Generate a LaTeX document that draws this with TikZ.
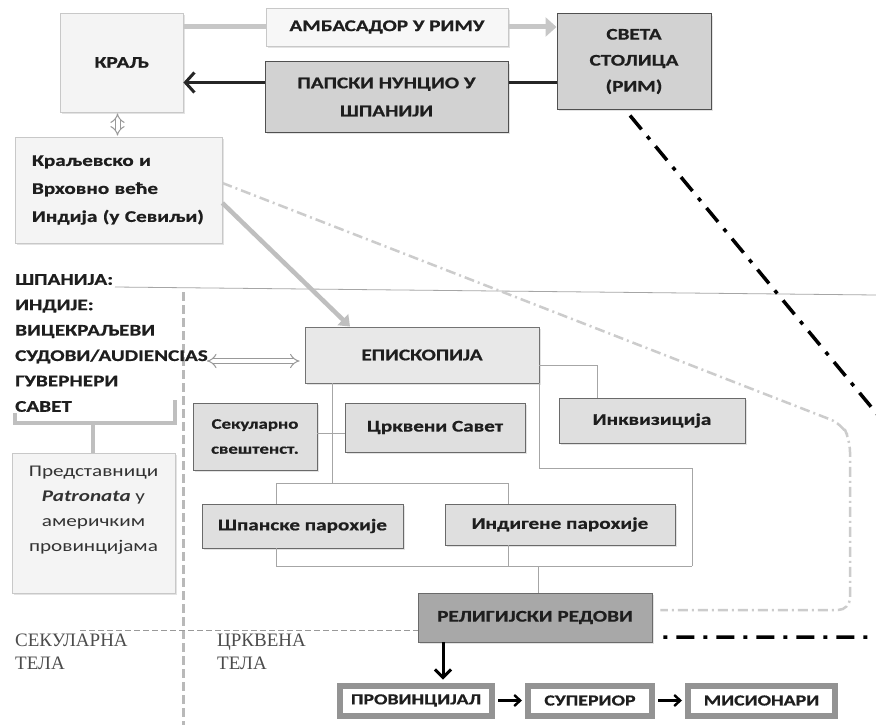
\documentclass[tikz,border=0pt]{standalone}
\usepackage{fontspec}
\setmainfont{Carlito}[FakeStretch=1.3, BoldFeatures={FakeBold=0.7}]
\newfontfamily\serifl{Liberation Serif}
\usetikzlibrary{arrows.meta,shadows}
\definecolor{lbfill}{HTML}{F4F4F4}
\definecolor{lbdraw}{HTML}{C8C8C8}
\definecolor{dbfill}{HTML}{D2D2D2}
\definecolor{dbdraw}{HTML}{505050}
\definecolor{mbfill}{HTML}{DFDFDF}
\definecolor{mbdraw}{HTML}{6A6A6A}
\definecolor{rbfill}{HTML}{A8A8A8}
\definecolor{txt}{HTML}{1E1E1E}
\tikzset{
  every node/.style={inner sep=0pt, text=txt},
  shad/.style={drop shadow={opacity=0.22, shadow xshift=1.5pt, shadow yshift=-2pt}},
  bigfont/.style={font=\bfseries\fontsize{16.3}{26}\selectfont},
  lbox/.style={draw=lbdraw, fill=lbfill, line width=0.8pt, align=center, shad, bigfont},
  wbox/.style={draw=lbdraw, fill=white!97!black, line width=0.8pt, align=center, shad, bigfont},
  dbox/.style={draw=dbdraw, fill=dbfill, line width=1pt, align=center, shad, bigfont},
  mbox/.style={draw=mbdraw, fill=mbfill, line width=0.9pt, align=center, shad, bigfont},
  rbox/.style={draw=mbdraw, fill=rbfill, line width=0.9pt, align=center, shad, bigfont},
  fbox/.style={draw=gray!85, fill=white, line width=6pt, align=center, font=\bfseries\fontsize{15.3}{20}\selectfont},
  conn/.style={draw=gray!70, line width=0.8pt},
  hollow/.style={draw=gray!80, line width=1pt, double=white, double distance=4pt, {Implies[length=5pt]}-{Implies[length=5pt]}},
  serlab/.style={font=\serifl\fontsize{19}{23}\selectfont, text=black!70, align=left, anchor=north west}
}
\begin{document}
\begin{tikzpicture}[x=1pt,y=-1pt]
\useasboundingbox (0,0) rectangle (876,725);
\fill[white] (0,0) rectangle (876,725);

% separators
\draw[gray!70, line width=0.8pt] (115,287) -- (876,295);
\draw[gray!55, line width=3pt, dash pattern=on 9pt off 4pt] (183,292) -- (183,725);
\draw[gray!80, line width=0.9pt, dash pattern=on 6pt off 3pt] (80,630) -- (420,630);

% top boxes
\node[lbox, minimum width=123pt, minimum height=99pt] (kral) at (121.5,62.5) {КРАЉ};
\node[wbox, minimum width=242pt, minimum height=38pt] (amb) at (387,27) {АМБАСАДОР У РИМУ};
\node[dbox, minimum width=243pt, minimum height=70pt, font=\bfseries\fontsize{16.3}{28}\selectfont] (nun) at (386.5,97) {ПАПСКИ НУНЦИО У\\ШПАНИЈИ};
\node[dbox, minimum width=154pt, minimum height=95pt] (sveta) at (634,61.5) {СВЕТА\\СТОЛИЦА\\(РИМ)};
\node[lbox, text width=173pt, inner xsep=17pt, align=left, minimum height=106pt, font=\bfseries\fontsize{16.3}{28}\selectfont] (kv) at (118.5,190) {Краљевско и\\Врховно веће\\Индија (у Севиљи)};

% left column
\node[anchor=north west, align=left, font=\bfseries\fontsize{16.3}{25.4}\selectfont] (indije) at (15,274) {ШПАНИЈА:\\ИНДИЈЕ:\\ВИЦЕКРАЉЕВИ\\СУДОВИ/AUDIENCIAS\\ГУВЕРНЕРИ\\САВЕТ};
\node[lbox, minimum width=163pt, minimum height=140pt] (pred) at (93.5,523) {};
\node[font=\fontsize{16.3}{25}\selectfont, align=center, text=black!80] (predT) at (93.5,510) {Представници\\\textbf{\textit{Patronata}} у\\америчким\\провинцијама};

% church boxes
\node[mbox, minimum width=234pt, minimum height=56pt, fill=black!9, draw=black!55] (episk) at (422,355) {ЕПИСКОПИЈА};
\node[mbox, minimum width=124pt, minimum height=67pt, font=\bfseries\fontsize{14.5}{25}\selectfont] (sek) at (255,436.5) {Секуларно\\свештенст.};
\node[mbox, minimum width=180pt, minimum height=49pt] (crk) at (435,427.5) {Црквени Савет};
\node[mbox, minimum width=186pt, minimum height=45pt] (inkv) at (652,420.5) {Инквизиција};
\node[mbox, minimum width=201pt, minimum height=44pt] (span) at (302.5,526) {Шпанске парохије};
\node[mbox, minimum width=230pt, minimum height=41pt] (indig) at (560,524.5) {Индигене парохије};
\node[rbox, minimum width=234pt, minimum height=49pt] (rel) at (535,617.5) {РЕЛИГИЈСКИ РЕДОВИ};
\node[fbox, minimum width=152pt, minimum height=30pt] (prov) at (416,700.5) {ПРОВИНЦИЈАЛ};
\node[fbox, minimum width=124pt, minimum height=30pt] (sup) at (590,700.5) {СУПЕРИОР};
\node[fbox, minimum width=147pt, minimum height=30pt] (mis) at (761.5,700.5) {МИСИОНАРИ};

% bottom labels
\node[serlab] (seklab) at (15,634) {СЕКУЛАРНА\\ТЕЛА};
\node[serlab] (crklab) at (217,634) {ЦРКВЕНА\\ТЕЛА};

% top connectors
\draw[draw=black!22, line width=5pt] (kral.east |- amb.west) -- (amb.west);
\draw[draw=black!22, line width=5pt, -{Triangle[length=11pt, width=19pt]}] (amb.east) -- (sveta.west |- amb.east);
\coordinate (nunY) at ([yshift=-21pt]sveta.west);
\draw[black!85, line width=3pt] (nunY) -- (nun.east |- nunY);
\draw[black!85, line width=3pt, -{Straight Barb[length=9pt, width=20pt]}] (nun.west |- nunY) -- (nunY -| kral.east);
\coordinate (ka) at ([xshift=-4pt]kral.south);
\draw[hollow, shorten <=1pt, shorten >=1pt] (ka) -- (ka |- kv.north);

% council to episcopacy
\draw[draw=black!25, line width=4.5pt, -{Triangle[length=10pt, width=15pt]}] ([yshift=-13pt]kv.east) -- ([xshift=-72pt]episk.north);
\draw[black!20, line width=2.5pt, dash pattern=on 10pt off 4pt on 2pt off 4pt, rounded corners=12pt]
  ([yshift=7pt]kv.east) -- (842,424) -- (850,440) -- (850,610) -- ([xshift=8pt, yshift=7.5pt]rel.east);
\draw[black, line width=3.5pt, dash pattern=on 18pt off 9pt on 4pt off 9pt]
  ([xshift=-4pt, yshift=-6pt]sveta.south) -- (882,420) -- (882,637) -- ([xshift=5pt, yshift=-19.5pt]rel.east);

% audiencias <-> episcopacy
\coordinate (aud) at (207,361);
\draw[hollow] (aud) -- ([xshift=-5pt]aud -| episk.west);

% bracket under left column
\draw[black!25, line width=4pt] (15,413) -- (15,423) -- (175,423) -- (175,400);
\coordinate (stem) at (93,423);
\draw[black!25, line width=4pt] (stem) -- (stem |- pred.north);

% church tree connectors
\coordinate (v1) at (332,483);
\draw[conn] (v1 |- episk.south) -- (v1);
\coordinate (b1) at (276,483);
\coordinate (b2) at (508,483);
\draw[conn] (b1 |- span.north) -- (b1) -- (b2) -- (b2 |- indig.north);
\coordinate (lk) at (330,433);
\draw[conn] (sek.east |- lk) -- (crk.west |- lk);
\coordinate (c1) at (597,365);
\draw[conn] (episk.east |- c1) -- (c1) -- (c1 |- inkv.north);
\coordinate (r1) at (692,468);
\coordinate (r2) at (692,566);
\draw[conn] (episk.south east) -- (episk.south east |- r1) -- (r1) -- (r2);
\coordinate (b3) at (276,566);
\draw[conn] (b3 |- span.south) -- (b3) -- (r2);
\draw[conn] (b2 |- indig.south) -- (b2 |- b3);
\coordinate (b4) at (538,566);
\draw[conn] (b4) -- (b4 |- rel.north);

% orders chain
\draw[black, line width=3pt, -{Straight Barb[length=8pt, width=16pt]}] ([xshift=-92pt]rel.south) -- ([xshift=27pt, yshift=3pt]prov.north);
\draw[black, line width=2.4pt, -{Straight Barb[length=6pt, width=11pt]}, shorten <=3pt, shorten >=3pt] (prov.east) -- (sup.west);
\draw[black, line width=2.4pt, -{Straight Barb[length=6pt, width=11pt]}, shorten <=3pt, shorten >=3pt] (sup.east) -- (mis.west);
\end{tikzpicture}
\end{document}
